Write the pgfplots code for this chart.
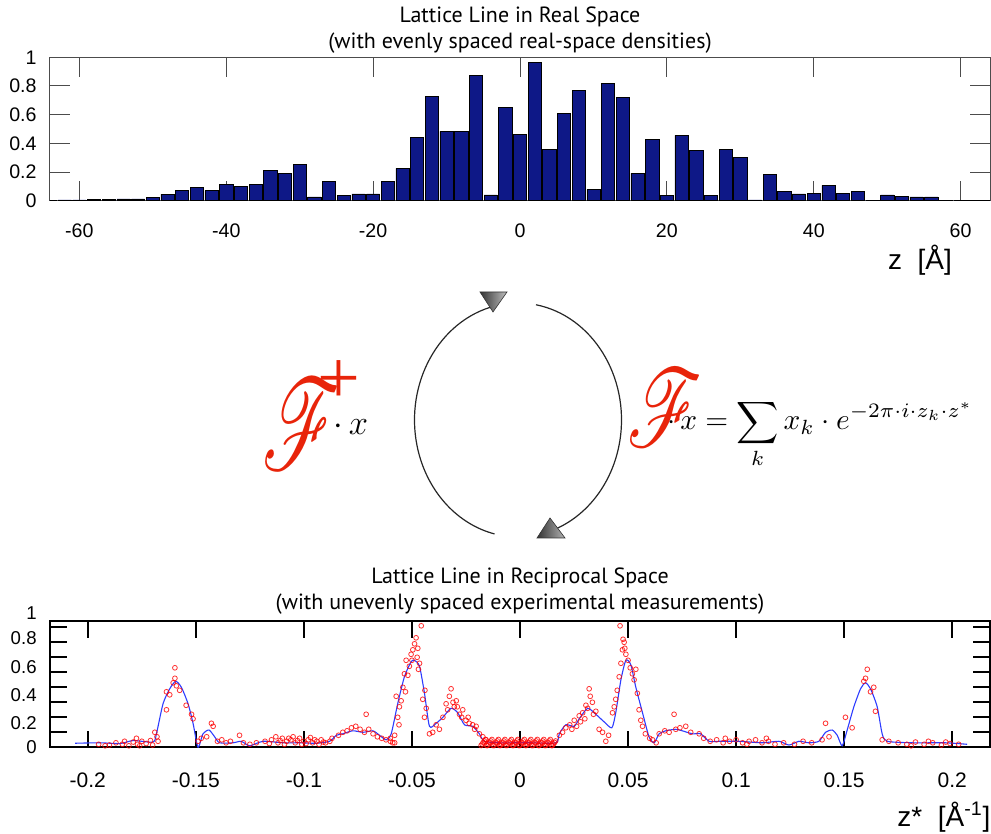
\documentclass[border=0pt]{standalone}
\usepackage{fontspec}
\setmainfont{Liberation Sans}
\newfontfamily\titlefont{PT Sans}
\newfontfamily\serifx{Liberation Serif}
\usepackage{amsmath}
\usepackage{mathrsfs}
\usepackage{pgfplots}
\pgfplotsset{compat=1.18}

\definecolor{barblue}{RGB}{14,24,135}
\definecolor{fred}{RGB}{232,36,10}
\definecolor{lineblue}{RGB}{45,60,255}

% real-space densities (z in Angstrom, density)
\pgfplotstableread{
z d
-64 0.004
-62 0.005
-60 0.006
-58 0.008
-56 0.010
-54 0.012
-52 0.012
-50 0.025
-48 0.045
-46 0.070
-44 0.090
-42 0.070
-40 0.115
-38 0.100
-36 0.115
-34 0.210
-32 0.190
-30 0.255
-28 0.027
-26 0.133
-24 0.035
-22 0.048
-20 0.047
-18 0.135
-16 0.225
-14 0.440
-12 0.725
-10 0.484
-8 0.484
-6 0.872
-4 0.040
-2 0.650
0 0.462
2 0.963
4 0.360
6 0.610
8 0.770
10 0.077
12 0.820
14 0.723
16 0.190
18 0.425
20 0.035
22 0.456
24 0.353
26 0.037
28 0.356
30 0.300
32 0.005
34 0.186
36 0.063
38 0.047
40 0.050
42 0.107
44 0.049
46 0.063
48 0.004
50 0.040
52 0.030
54 0.026
56 0.026
58 0.004
60 0.003
62 0.003
64 0.002
}\realspace

% fitted curve in reciprocal space
\pgfplotstableread{
x y
-0.2059 0.027
-0.1944 0.030
-0.1850 0.025
-0.1790 0.045
-0.1698 0.035
-0.1682 0.093
-0.1652 0.29
-0.1621 0.39
-0.1593 0.44
-0.1567 0.40
-0.1536 0.29
-0.1513 0.16
-0.1490 0.00
-0.1467 0.09
-0.1439 0.115
-0.1413 0.07
-0.1390 0.03
-0.1328 0.03
-0.1290 0.04
-0.1251 0.01
-0.1189 0.04
-0.1097 0.03
-0.1020 0.03
-0.0943 0.027
-0.0881 0.04
-0.0850 0.08
-0.0820 0.09
-0.0774 0.11
-0.0727 0.10
-0.0681 0.11
-0.0650 0.08
-0.0619 0.05
-0.0596 0.09
-0.0566 0.29
-0.0535 0.47
-0.0504 0.57
-0.0488 0.58
-0.0465 0.54
-0.0442 0.36
-0.0419 0.14
-0.0388 0.16
-0.0357 0.20
-0.0319 0.26
-0.0288 0.23
-0.0257 0.15
-0.0219 0.14
-0.0188 0.09
-0.0165 0.04
-0.0096 0.03
-0.0034 0.03
0.0050 0.03
0.0166 0.03
0.0182 0.09
0.0212 0.15
0.0251 0.14
0.0274 0.19
0.0313 0.26
0.0351 0.22
0.0389 0.17
0.0425 0.13
0.0443 0.23
0.0467 0.45
0.0490 0.58
0.0513 0.55
0.0536 0.40
0.0567 0.23
0.0597 0.07
0.0621 0.03
0.0644 0.09
0.0674 0.11
0.0721 0.12
0.0751 0.11
0.0798 0.09
0.0836 0.09
0.0875 0.04
0.0921 0.04
0.1013 0.04
0.1121 0.03
0.1198 0.04
0.1245 0.015
0.1291 0.04
0.1337 0.03
0.1383 0.04
0.1414 0.10
0.1445 0.115
0.1468 0.08
0.1491 0.01
0.1514 0.115
0.1545 0.27
0.1576 0.39
0.1599 0.43
0.1622 0.39
0.1653 0.27
0.1676 0.09
0.1699 0.04
0.1815 0.03
0.1969 0.03
0.2069 0.02
}\fitcurve

% measured amplitudes (unevenly spaced)
\pgfplotstableread{
x y
-0.195 0.02
-0.190 0.015
-0.187 0.03
-0.184 0.02
-0.181 0.01
-0.179 0.035
-0.177 0.02
-0.175 0.04
-0.173 0.025
-0.171 0.045
-0.170 0.015
-0.183 0.04
-0.192 0.01
-0.176 0.01
-0.1775 0.06
-0.169 0.10
-0.168 0.07
-0.1675 0.04
-0.1636 0.25
-0.1636 0.37
-0.1621 0.35
-0.1597 0.53
-0.1597 0.46
-0.1605 0.43
-0.1590 0.41
-0.1575 0.38
-0.1520 0.22
-0.1513 0.19
-0.1545 0.28
-0.1490 0.04
-0.1475 0.06
-0.1428 0.16
-0.1420 0.14
-0.1450 0.07
-0.1400 0.04
-0.1380 0.05
-0.1360 0.03
-0.1340 0.04
-0.1298 0.08
-0.1280 0.03
-0.1250 0.02
-0.1220 0.03
-0.118 0.04
-0.115 0.05
-0.112 0.03
-0.110 0.06
-0.108 0.04
-0.106 0.05
-0.104 0.03
-0.102 0.06
-0.100 0.04
-0.098 0.05
-0.096 0.03
-0.094 0.04
-0.092 0.05
-0.090 0.03
-0.113 0.07
-0.105 0.07
-0.097 0.065
-0.101 0.02
-0.109 0.02
-0.093 0.02
-0.088 0.04
-0.116 0.025
-0.111 0.045
-0.107 0.06
-0.103 0.045
-0.099 0.025
-0.095 0.05
-0.091 0.035
-0.087 0.06
-0.084 0.08
-0.082 0.10
-0.080 0.11
-0.078 0.13
-0.076 0.14
-0.074 0.12
-0.072 0.10
-0.0712 0.22
-0.070 0.12
-0.068 0.09
-0.066 0.07
-0.064 0.06
-0.062 0.05
-0.060 0.04
-0.058 0.03
-0.0589 0.03
-0.0573 0.34
-0.0566 0.20
-0.0558 0.27
-0.0550 0.31
-0.0542 0.40
-0.0535 0.49
-0.0527 0.58
-0.0519 0.48
-0.0512 0.54
-0.0504 0.62
-0.0496 0.65
-0.0488 0.69
-0.0481 0.73
-0.0473 0.66
-0.0476 0.60
-0.0457 0.81
-0.0465 0.56
-0.0450 0.32
-0.0442 0.20
-0.0434 0.26
-0.0419 0.09
-0.0404 0.10
-0.0373 0.12
-0.0388 0.15
-0.0357 0.20
-0.0342 0.29
-0.0327 0.34
-0.0319 0.39
-0.0304 0.27
-0.0295 0.31
-0.0280 0.22
-0.0265 0.25
-0.0250 0.18
-0.0235 0.16
-0.0219 0.15
-0.0203 0.14
-0.0188 0.09
-0.0172 0.07
-0.0157 0.05
-0.0560 0.15
-0.0530 0.37
-0.0500 0.58
-0.0470 0.52
-0.0440 0.38
-0.0600 0.06
-0.0580 0.08
-0.0335 0.25
-0.0310 0.30
-0.0290 0.27
-0.0270 0.20
-0.0240 0.20
-0.0210 0.12
-0.0180 0.012
-0.0170 0.032
-0.0160 0.052
-0.0150 0.012
-0.0140 0.032
-0.0130 0.052
-0.0120 0.012
-0.0110 0.032
-0.0100 0.052
-0.0090 0.012
-0.0080 0.032
-0.0070 0.052
-0.0060 0.012
-0.0050 0.032
-0.0040 0.052
-0.0030 0.012
-0.0020 0.032
-0.0010 0.052
0.0000 0.012
0.0010 0.032
0.0020 0.052
0.0030 0.012
0.0040 0.032
0.0050 0.052
0.0060 0.012
0.0070 0.032
0.0080 0.052
0.0090 0.012
0.0100 0.032
0.0110 0.052
0.0120 0.012
0.0130 0.032
0.0140 0.052
0.0150 0.012
0.0160 0.032
-0.0175 0.022
-0.0165 0.042
-0.0155 0.012
-0.0145 0.022
-0.0135 0.042
-0.0125 0.012
-0.0115 0.022
-0.0105 0.042
-0.0095 0.012
-0.0085 0.022
-0.0075 0.042
-0.0065 0.012
-0.0055 0.022
-0.0045 0.042
-0.0035 0.012
-0.0025 0.022
-0.0015 0.042
-0.0005 0.012
0.0005 0.022
0.0015 0.042
0.0025 0.012
0.0035 0.022
0.0045 0.042
0.0055 0.012
0.0065 0.022
0.0075 0.042
0.0085 0.012
0.0095 0.022
0.0105 0.042
0.0115 0.012
0.0125 0.022
0.0135 0.042
0.0145 0.012
0.0155 0.022
0.0165 0.042
0.0182 0.08
0.0197 0.10
0.0212 0.13
0.0230 0.15
0.0251 0.18
0.0262 0.14
0.0274 0.21
0.0290 0.23
0.0300 0.19
0.0313 0.26
0.0320 0.39
0.0325 0.34
0.0335 0.30
0.0351 0.24
0.0366 0.12
0.0382 0.10
0.0397 0.04
0.0410 0.08
0.0428 0.23
0.0436 0.27
0.0443 0.32
0.0459 0.47
0.0467 0.56
0.0474 0.65
0.0477 0.72
0.0482 0.70
0.0463 0.81
0.0490 0.62
0.0500 0.58
0.0510 0.53
0.0520 0.49
0.0528 0.45
0.0536 0.52
0.0543 0.36
0.0551 0.25
0.0559 0.18
0.0567 0.14
0.0580 0.09
0.0600 0.06
0.0613 0.05
0.0630 0.03
0.0644 0.09
0.0670 0.11
0.0690 0.10
0.0713 0.22
0.0721 0.12
0.0740 0.13
0.0767 0.14
0.0790 0.10
0.0829 0.09
0.0850 0.06
0.0240 0.12
0.0280 0.17
0.0305 0.28
0.0340 0.22
0.0450 0.38
0.0485 0.66
0.088 0.04
0.091 0.05
0.094 0.03
0.097 0.04
0.100 0.05
0.103 0.03
0.106 0.04
0.109 0.05
0.112 0.03
0.115 0.04
0.118 0.02
0.095 0.06
0.105 0.02
0.114 0.06
0.122 0.03
0.127 0.02
0.131 0.04
0.135 0.03
0.1398 0.05
0.1414 0.16
0.1430 0.07
0.1506 0.20
0.1537 0.13
0.1591 0.44
0.1599 0.46
0.1607 0.52
0.1637 0.40
0.1645 0.24
0.1622 0.37
0.1676 0.05
0.1707 0.04
0.175 0.03
0.179 0.02
0.183 0.035
0.187 0.02
0.191 0.03
0.195 0.015
0.199 0.025
0.203 0.02
0.181 0.01
0.189 0.04
0.197 0.035
}\measured

\begin{document}
\begin{tikzpicture}[x=1pt,y=1pt]
\useasboundingbox (0,0) rectangle (495.5,417);

% ---------------- real space ----------------
\begin{axis}[
  name=top,
  at={(25pt,316.65pt)}, anchor=south west,
  width=470pt, height=71.7pt, scale only axis,
  xmin=-64, xmax=64, ymin=0, ymax=1,
  xtick={-60,-40,-20,0,20,40,60},
  ytick={0,0.2,0.4,0.6,0.8,1},
  yticklabels={0,0.2,0.4,0.6,0.8,1},
  tick align=inside, major tick length=10pt,
  axis line style={black!70, line width=0.5pt},
  tick style={black!70, line width=0.5pt},
  /pgf/number format/assume math mode=true,
  ticklabel style={font=\fontsize{9.8}{11}\selectfont},
  xticklabel style={anchor=center, yshift=-14.8pt},
  yticklabel style={anchor=east, inner sep=0pt, xshift=-6.5pt},
  title={Lattice Line in Real Space\\(with evenly spaced real-space densities)},
  title style={at={(axis description cs:0.5,1)}, anchor=south, inner sep=0pt,
    yshift=-4pt, align=center, font=\titlefont\fontsize{11}{13}\selectfont},
  xlabel={z\ \ [Å]},
  xlabel style={at={(axis description cs:0.9255,-0.4135)}, anchor=center,
    inner sep=0pt, font=\fontsize{14}{16}\selectfont},
]
\addplot[ybar, bar width=1.8, fill=barblue, draw=black, line width=0.3pt]
  table[x=z, y=d] {\realspace};
\end{axis}

% ---------------- reciprocal space ----------------
\begin{axis}[
  name=bot,
  at={(25pt,43.35pt)}, anchor=south west,
  width=470pt, height=63.15pt, scale only axis,
  xmin=-0.2175, xmax=0.2175, ymin=0, ymax=0.842,
  xtick={-0.2,-0.15,-0.1,-0.05,0,0.05,0.1,0.15,0.2},
  xticklabels={-0.2,-0.15,-0.1,-0.05,0,0.05,0.1,0.15,0.2},
  scaled x ticks=false,
  ytick={0,0.16,0.349,0.537,0.726},
  yticklabels={0,0.2,0.4,0.6,0.8},
  major y tick style={draw=none},
  minor ytick={0.1,0.2,0.3,0.4,0.5,0.6,0.7,0.8},
  minor y tick style={black, line width=0.9pt},
  tick align=inside, major tick length=8.3pt, minor tick length=8.3pt,
  axis line style={black, line width=0.9pt},
  tick style={black, line width=0.9pt},
  /pgf/number format/assume math mode=true,
  xticklabel style={anchor=center, yshift=-16.7pt, font=\fontsize{10.5}{12}\selectfont},
  yticklabel style={anchor=east, inner sep=0pt, xshift=-6.5pt, font=\fontsize{9.3}{11}\selectfont},
  title={Lattice Line in Reciprocal Space\\(with unevenly spaced experimental measurements)},
  title style={at={(axis description cs:0.5,1)}, anchor=south, inner sep=0pt,
    yshift=-3pt, align=center, font=\titlefont\fontsize{11}{13}\selectfont},
  xlabel={z*\ \ [Å\textsuperscript{-1}]},
  xlabel style={at={(axis description cs:0.951,-0.5495)}, anchor=center,
    inner sep=0pt, font=\fontsize{14}{16}\selectfont},
]
\addplot[only marks, mark=o, mark size=1.2pt, red, opacity=0.8,
  mark options={line width=0.4pt, fill=red!15}] table[x=x, y=y] {\measured};
\addplot[lineblue, line width=0.55pt, smooth, tension=0.4] table[x=x, y=y] {\fitcurve};
\end{axis}
\node[anchor=east, inner sep=0pt, font=\fontsize{9.3}{11}\selectfont]
  at ([xshift=-6.5pt, yshift=4.15pt]bot.north west) {1};

% ---------------- transform cycle ----------------
\draw[line width=0.6pt, black!85] ([shift={(105.7:51.75 and 58.5)}]259,207)
  arc[start angle=105.7, end angle=256.9, x radius=51.75, y radius=58.5];
\draw[line width=0.6pt, black!85] ([shift={(80:51.75 and 58.5)}]259,207)
  arc[start angle=80, end angle=-67.8, x radius=51.75, y radius=58.5];
\shade[left color=black!80, right color=black!25, draw=black!80, line width=0.3pt]
  (240,271) -- (253.5,271) -- (246.5,261) -- cycle;
\shade[left color=black!80, right color=black!30, draw=black!80, line width=0.3pt]
  (268.5,148) -- (282.5,148) -- (275,158) -- cycle;

% inverse transform (one text block)
\node[anchor=base west, inner sep=0pt] at (131,199.5)
  {\rlap{\raisebox{-17.5pt}{\vbox{\hbox{\textcolor{fred}{\resizebox*{39pt}{45pt}{$\mathscr{F}$}}}\kern0pt}}}%
   \rlap{\hspace{27.3pt}\raisebox{15.9pt}{\textcolor{fred}{\serifx\fontsize{38}{40}\selectfont +}}}%
   \hspace{35.5pt}{\fontsize{17}{20}\selectfont$\cdot\, x$}};

% forward transform (one text block)
\node[anchor=base west, inner sep=0pt] at (313.5,202)
  {\rlap{\raisebox{-8.5pt}{\vbox{\hbox{\textcolor{fred}{\resizebox*{37.5pt}{38.5pt}{$\mathscr{F}$}}}\kern0pt}}}%
   \hspace{20pt}\resizebox{153pt}{!}{$\cdot\, x = \displaystyle\sum_{k} x_{k} \cdot e^{-2\mathrm{\pi}\cdot i\cdot z_{k}\cdot z^{*}}$}};
\end{tikzpicture}
\end{document}
